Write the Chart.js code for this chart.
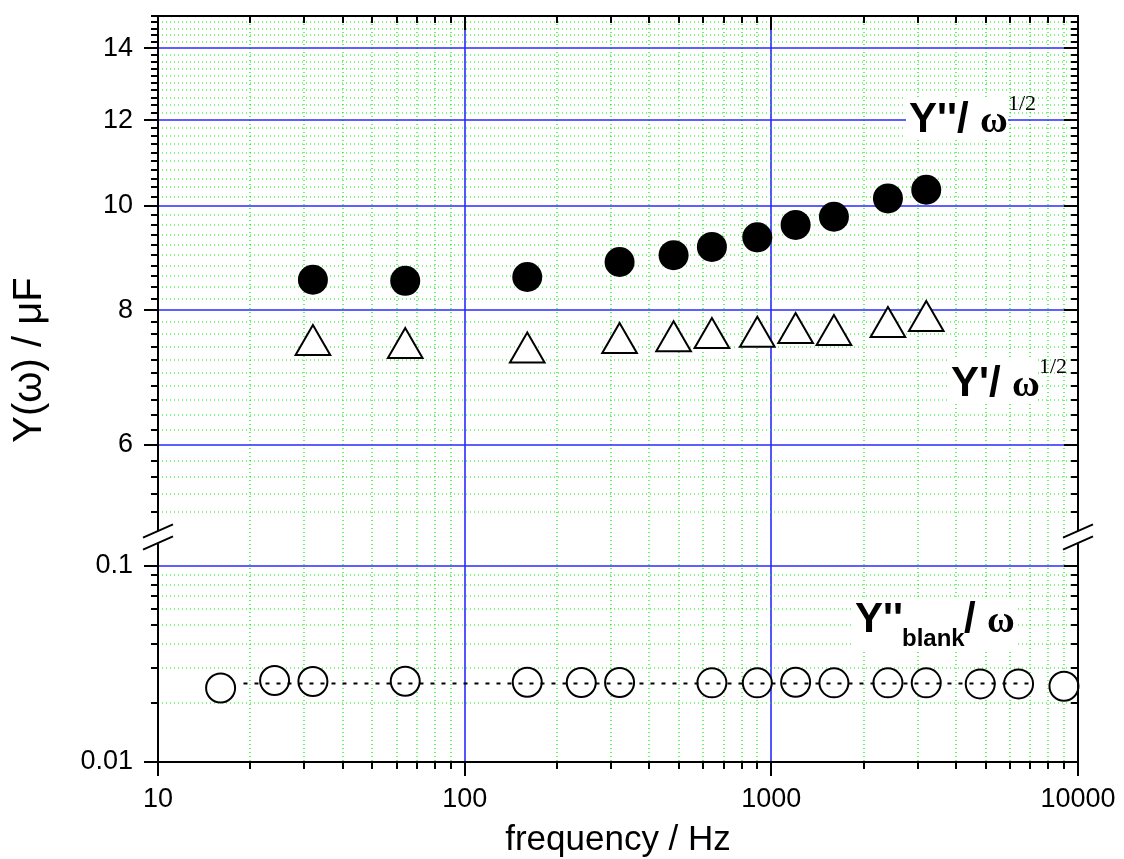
<!DOCTYPE html>
<html>
<head>
<meta charset="utf-8">
<script src="https://cdn.jsdelivr.net/npm/chart.js@4.4.1/dist/chart.umd.min.js"></script>
<style>
  html, body { margin: 0; padding: 0; background: #fff; }
</style>
</head>
<body>
<canvas id="chart" width="1124" height="859"></canvas>
<script>
// Values

// frequency / Hz for the two upper series
const freqUpper = [32, 64, 160, 320, 480, 640, 900, 1200, 1600, 2400, 3200];
// Y''/w^1/2  (filled circles)
const yImag = [8.54, 8.52, 8.59, 8.87, 9.00, 9.16, 9.35, 9.60, 9.77, 10.16, 10.35];
// Y'/w^1/2  (open triangles)
const yReal = [7.43, 7.38, 7.31, 7.46, 7.49, 7.54, 7.56, 7.62, 7.59, 7.72, 7.82];

// blank cell Y''/w  (open circles, lower panel)
const freqBlank = [16, 24, 32, 64, 160, 240, 320, 640, 900, 1200, 1600, 2400, 3200, 4800, 6400, 9000];
const yBlank = [0.0238, 0.0260, 0.0257, 0.0258, 0.0255, 0.0254, 0.0254, 0.0253, 0.0253, 0.0255, 0.0253, 0.0253, 0.0253, 0.0250, 0.0250, 0.0243];

// dotted mean line through the blank points
const fitFreq = [19, 7200];
const fitBlank = [0.0251, 0.0251];

// labelled ticks
const xMajor = [10, 100, 1000, 10000];
const yTopMajor = [6, 8, 10, 12, 14];
const yBotMajor = [0.01, 0.1];

// minor ticks / grid: 1..9 per decade on log axes, 0.2 steps on the upper panel
function decadeTicks(lo, hi) {
    const out = [];
    for (let e = lo; e < hi; e++) {
        for (let m = 1; m < 10; m++) out.push(+(m * Math.pow(10, e)).toPrecision(3));
    }
    out.push(Math.pow(10, hi));
    return out;
}
const xTicks = decadeTicks(1, 4);
const yBotTicks = decadeTicks(-2, -1);
const yTopTicks = [];
for (let k = 26; k <= 75; k++) yTopTicks.push(k / 5);

const isIn = (arr, v) => arr.some(m => Math.abs(m - v) < Math.abs(m) * 1e-6);

const blue = '#2a2aff';
const green = '#00f000';
const sans = 'Liberation Sans, Arial, sans-serif';
const serif = 'Liberation Serif, Times New Roman, serif';
const tickFont = { family: sans, size: 27 };

function axisFor(majors, list, pad) {
    return {
        type: 'logarithmic',
        afterBuildTicks: s => { s.ticks = list.map(v => ({ value: v })); },
        grid: { display: false, drawTicks: false },
        border: { display: false },
        ticks: {
            autoSkip: false,
            maxRotation: 0,
            padding: pad,
            color: '#000',
            font: tickFont,
            callback: v => isIn(majors, v) ? String(v) : ''
        }
    };
}

function noPad(s) {
    s.paddingTop = 0;
    s.paddingBottom = 0;
    s.paddingLeft = 0;
    s.paddingRight = 0;
}

function drawParts(ctx, parts) {
    parts.forEach(p => {
        ctx.font = p.font;
        ctx.fillText(p.text, p.x, p.y);
    });
}

// Grid, axis frame, tick marks, axis break, titles and labels
const decorations = {
    id: 'decorations',
    beforeDatasetsDraw(chart) {
        const { ctx, chartArea: a, scales } = chart;
        ctx.save();
        const line = (major, x1, y1, x2, y2) => {
            ctx.strokeStyle = major ? blue : green;
            ctx.lineWidth = major ? 1.6 : 1.2;
            ctx.setLineDash(major ? [] : [1, 3]);
            ctx.beginPath();
            ctx.moveTo(x1, y1);
            ctx.lineTo(x2, y2);
            ctx.stroke();
        };
        scales.x.ticks.forEach(t => {
            const px = Math.round(scales.x.getPixelForValue(t.value));
            line(isIn(xMajor, t.value), px, a.top, px, a.bottom);
        });
        [[scales.yTop, yTopMajor], [scales.yBot, yBotMajor]].forEach(([s, majors]) => {
            s.ticks.forEach(t => {
                const py = Math.round(s.getPixelForValue(t.value));
                line(isIn(majors, t.value), a.left, py, a.right, py);
            });
        });
        ctx.restore();
    },
    afterDatasetsDraw(chart) {
        const ctx = chart.ctx;
        ctx.save();
        ctx.fillStyle = '#fff';
        ctx.fillRect(906, 97, 102, 42);
        ctx.fillRect(948, 358, 90, 44);
        ctx.fillRect(852, 598, 164, 52);
        ctx.fillStyle = '#000';
        ctx.textBaseline = 'alphabetic';
        ctx.textAlign = 'left';
        drawParts(ctx, [
            { text: "Y''/", font: 'bold 42px ' + sans, x: 909, y: 132 },
            { text: 'ω', font: 'bold 38px ' + serif, x: 980, y: 132 },
            { text: '1/2', font: '22px ' + serif, x: 1008, y: 110 },

            { text: "Y'/", font: 'bold 42px ' + sans, x: 951, y: 396 },
            { text: 'ω', font: 'bold 38px ' + serif, x: 1012, y: 396 },
            { text: '1/2', font: '22px ' + serif, x: 1039, y: 373 },

            { text: "Y''", font: 'bold 42px ' + sans, x: 855, y: 632 },
            { text: 'blank', font: 'bold 24px ' + sans, x: 902, y: 646 },
            { text: '/', font: 'bold 42px ' + sans, x: 964, y: 632 },
            { text: 'ω', font: 'bold 38px ' + serif, x: 987, y: 632 }
        ]);
        ctx.restore();
    },
    afterDraw(chart) {
        const { ctx, chartArea: a, scales } = chart;
        ctx.save();
        ctx.strokeStyle = '#000';
        ctx.lineWidth = 2;

        // frame
        ctx.strokeRect(Math.round(a.left), Math.round(a.top),
            Math.round(a.right) - Math.round(a.left), Math.round(a.bottom) - Math.round(a.top));

        // ticks: outward on bottom/left, inward on top/right
        ctx.beginPath();
        scales.x.ticks.forEach(t => {
            const px = Math.round(scales.x.getPixelForValue(t.value));
            const len = isIn(xMajor, t.value) ? 14 : 7;
            ctx.moveTo(px, a.bottom); ctx.lineTo(px, a.bottom + len);
            ctx.moveTo(px, a.top); ctx.lineTo(px, a.top + len);
        });
        [[scales.yTop, yTopMajor], [scales.yBot, yBotMajor]].forEach(([s, majors]) => {
            s.ticks.forEach(t => {
                const py = Math.round(s.getPixelForValue(t.value));
                const len = isIn(majors, t.value) ? 14 : 7;
                ctx.moveTo(a.left - len, py); ctx.lineTo(a.left, py);
                ctx.moveTo(a.right - len, py); ctx.lineTo(a.right, py);
            });
        });
        ctx.stroke();

        // axis break marks
        const yb = scales.yTop.bottom;
        [a.left, a.right].forEach(x => {
            ctx.fillStyle = '#fff';
            ctx.beginPath();
            ctx.moveTo(x - 15, yb + 0.6);
            ctx.lineTo(x + 15, yb - 12.6);
            ctx.lineTo(x + 15, yb - 0.6);
            ctx.lineTo(x - 15, yb + 12.6);
            ctx.closePath();
            ctx.fill();
            ctx.beginPath();
            ctx.moveTo(x - 15, yb + 0.6); ctx.lineTo(x + 15, yb - 12.6);
            ctx.moveTo(x - 15, yb + 12.6); ctx.lineTo(x + 15, yb - 0.6);
            ctx.stroke();
        });

        // axis titles
        ctx.fillStyle = '#000';
        ctx.font = '35px ' + sans;
        ctx.textAlign = 'center';
        ctx.textBaseline = 'alphabetic';
        ctx.fillText('frequency / Hz', (a.left + a.right) / 2, 850);

        ctx.translate(30, 360);
        ctx.rotate(-Math.PI / 2);
        ctx.font = '40px ' + sans;
        ctx.textBaseline = 'middle';
        ctx.fillText('Y(ω) / μF', 0, 0);
        ctx.restore();
    }
};

const xAxis = axisFor(xMajor, xTicks, 21);
xAxis.min = 10;
xAxis.max = 10000;
xAxis.afterFit = s => { s.height = 97; noPad(s); };

const yTopAxis = axisFor(yTopMajor, yTopTicks, 25);
Object.assign(yTopAxis, {
    position: 'left', stack: 'y', stackWeight: 521, weight: 1, min: 4.93, max: 15,
    afterFit: s => { s.width = 158; noPad(s); }
});

const yBotAxis = axisFor(yBotMajor, yBotTicks, 25);
Object.assign(yBotAxis, {
    position: 'left', stack: 'y', stackWeight: 225, weight: 0, min: 0.01, max: 0.14,
    afterFit: s => { s.width = 158; noPad(s); }
});

const chart = new Chart(document.getElementById('chart'), {
    type: 'scatter',
    data: {
        datasets: [
            {
                label: 'mean',
                data: fitFreq.map((f, i) => ({ x: f, y: fitBlank[i] })),
                yAxisID: 'yBot',
                showLine: true,
                borderColor: '#000',
                borderWidth: 2,
                borderDash: [4, 7],
                pointRadius: 0,
                order: 0,
                clip: false
            },
            {
                label: "Y''blank/w",
                data: freqBlank.map((f, i) => ({ x: f, y: yBlank[i] })),
                yAxisID: 'yBot',
                pointStyle: 'circle',
                pointRadius: 14.5,
                pointBackgroundColor: '#fff',
                pointBorderColor: '#000',
                pointBorderWidth: 2,
                order: 1,
                clip: false
            },
            {
                label: "Y''/w^1/2",
                data: freqUpper.map((f, i) => ({ x: f, y: yImag[i] })),
                yAxisID: 'yTop',
                pointStyle: 'circle',
                pointRadius: 15,
                pointBackgroundColor: '#000',
                pointBorderColor: '#000',
                pointBorderWidth: 0,
                order: 1,
                clip: false
            },
            {
                label: "Y'/w^1/2",
                data: freqUpper.map((f, i) => ({ x: f, y: yReal[i] })),
                yAxisID: 'yTop',
                pointStyle: 'triangle',
                pointRadius: 20,
                pointBackgroundColor: '#fff',
                pointBorderColor: '#000',
                pointBorderWidth: 2,
                order: 1,
                clip: false
            }
        ]
    },
    options: {
        responsive: false,
        animation: false,
        events: [],
        layout: { autoPadding: false, padding: { left: 0, top: 16, right: 46, bottom: 0 } },
        plugins: {
            legend: { display: false },
            tooltip: { enabled: false }
        },
        scales: {
            x: xAxis,
            yTop: yTopAxis,
            yBot: yBotAxis
        }
    },
    plugins: [decorations]
});
</script>
</body>
</html>
